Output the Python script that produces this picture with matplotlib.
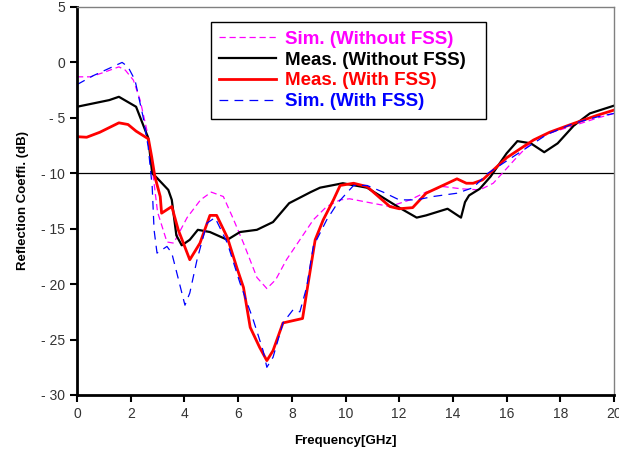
import numpy as np
import matplotlib.pyplot as plt

# data (frequency in GHz, reflection in dB)
f_sim_wo = [0, 0.5, 1.0, 1.56, 1.8, 2.1, 2.35, 2.6, 2.8, 3.0, 3.35, 3.6, 4.1, 4.6, 5.0, 5.45,
            5.8, 6.2, 6.7, 7.07, 7.4, 7.8, 8.3, 8.8, 9.3, 9.8, 10.15, 11.0, 11.65, 12.4, 13.0,
            13.65, 14.3, 15.0, 15.5, 16.4, 17.0, 17.7, 18.5, 19.4, 20.0]
s_sim_wo = [-1.3, -1.3, -0.9, -0.4, -0.7, -1.6, -3.4, -6.1, -9.5, -13.5, -16.2, -16.3, -14.0,
            -12.4, -11.7, -12.1, -14.0, -16.3, -19.4, -20.4, -19.6, -17.8, -16.0, -14.2, -13.0,
            -12.4, -12.3, -12.7, -13.0, -12.4, -11.7, -11.2, -11.4, -11.5, -10.9, -8.5, -7.0,
            -6.3, -5.7, -5.0, -4.6]

f_meas_wo = [0, 0.6, 1.2, 1.56, 2.2, 2.65, 2.8, 2.97, 3.4, 3.53, 3.7, 3.9, 4.2, 4.5, 4.95, 5.6,
             6.07, 6.7, 7.3, 7.9, 8.3, 8.7, 9.05, 9.9, 10.8, 12.0, 12.65, 13.0, 13.8, 14.3, 14.45,
             14.6, 15.0, 15.4, 16.0, 16.4, 16.9, 17.4, 17.9, 18.5, 19.1, 20.0]
s_meas_wo = [-4.0, -3.7, -3.4, -3.1, -4.0, -6.8, -10.0, -10.4, -11.5, -12.4, -15.6, -16.5,
             -16.0, -15.1, -15.3, -16.0, -15.3, -15.1, -14.4, -12.7, -12.2, -11.7, -11.3, -10.9,
             -11.3, -13.1, -14.0, -13.8, -13.2, -14.0, -12.6, -12.0, -11.4, -10.3, -8.2, -7.1,
             -7.3, -8.1, -7.3, -5.7, -4.6, -3.9]

f_meas_w = [0, 0.36, 0.85, 1.56, 1.9, 2.2, 2.66, 2.78, 2.9, 3.1, 3.15, 3.53, 3.77, 4.2, 4.58,
            4.95, 5.2, 5.6, 5.95, 6.2, 6.45, 6.8, 7.07, 7.3, 7.67, 8.4, 8.55, 8.87, 9.17, 9.55,
            9.8, 10.3, 10.8, 11.65, 12.0, 12.5, 13.0, 13.8, 14.15, 14.5, 14.75, 15.1, 16.0,
            17.0, 17.6, 18.5, 19.4, 20.0]
s_meas_w = [-6.7, -6.75, -6.3, -5.45, -5.6, -6.2, -6.9, -8.5, -10.3, -12.1, -13.6, -13.0,
            -15.1, -17.8, -16.3, -13.8, -13.8, -15.8, -18.5, -20.3, -23.9, -25.7, -26.9, -26.0,
            -23.5, -23.1, -20.8, -16.0, -14.2, -12.4, -11.1, -10.9, -11.2, -13.0, -13.2, -13.1,
            -11.8, -10.9, -10.5, -10.9, -10.9, -10.6, -8.6, -7.0, -6.3, -5.5, -4.75, -4.3]

f_sim_w = [0, 0.6, 1.23, 1.68, 1.9, 2.16, 2.46, 2.65, 2.8, 2.87, 2.98, 3.35, 3.53, 3.76, 4.02,
           4.2, 4.47, 4.84, 5.14, 5.6, 6.07, 6.56, 6.93, 7.07, 7.3, 7.67, 8.05, 8.3, 8.55, 8.8,
           9.3, 9.7, 10.3, 10.8, 11.4, 12.0, 12.65, 13.25, 14.15, 14.75, 15.3, 16.75, 17.5,
           18.5, 19.4, 20.0]
s_sim_w = [-2.0, -1.2, -0.5, 0.0, -0.4, -1.6, -4.9, -7.6, -11.2, -15.1, -17.2, -16.6, -17.2,
           -19.4, -21.9, -20.8, -17.8, -14.5, -14.0, -16.3, -19.9, -23.2, -26.0, -27.5, -26.6,
           -23.5, -22.3, -22.5, -20.3, -16.6, -14.2, -12.7, -11.1, -11.1, -11.7, -12.4, -12.4,
           -12.1, -11.8, -11.3, -10.0, -7.7, -6.5, -5.5, -4.9, -4.6]

labels = ['Sim. (Without FSS)', 'Meas. (Without FSS)', 'Meas. (With FSS)', 'Sim. (With FSS)']
colors = ['#ff00ff', 'black', 'red', 'blue']

plt.rcParams['font.family'] = ['Liberation Sans', 'DejaVu Sans']

fig = plt.figure(figsize=(6.19, 4.54), dpi=100)
ax = fig.add_axes([0.1244, 0.13, 0.8676, 0.8546])

ax.axhline(-10, color='black', lw=0.9)
ax.plot(f_sim_wo, s_sim_wo, color=colors[0], lw=0.9, dashes=(5, 3), label=labels[0])
ax.plot(f_meas_wo, s_meas_wo, color=colors[1], lw=1.6, label=labels[1])
ax.plot(f_meas_w, s_meas_w, color=colors[2], lw=2.0, label=labels[2])
ax.plot(f_sim_w, s_sim_w, color=colors[3], lw=0.9, dashes=(7, 5), label=labels[3])

ax.set_xlim(0, 20)
ax.set_ylim(-30, 5)
ax.set_xticks(range(0, 21, 2))
ax.set_yticks(range(-30, 6, 5))
ax.set_yticklabels(['- 30', '- 25', '- 20', '- 15', '- 10', '- 5', '0', '5'])
ax.tick_params(labelsize=10, length=5, width=1.5, colors='black', labelcolor='#333333')

for s in ['left', 'bottom']:
    ax.spines[s].set_linewidth(2)
for s in ['top', 'right']:
    ax.spines[s].set_color('#808080')
    ax.spines[s].set_linewidth(1)

ax.set_xlabel('Frequency[GHz]', fontsize=9.5, fontweight='bold', labelpad=10)
ax.set_ylabel('Reflection Coeffi. (dB)', fontsize=9.5, fontweight='bold', labelpad=9)

leg = ax.legend(loc='upper left', bbox_to_anchor=(0.2495, 0.711, 0.512, 0.25), mode='expand',
                fancybox=False, edgecolor='black', framealpha=1,
                prop={'weight': 'bold', 'size': 13.5},
                handlelength=3.0, labelspacing=0.2, borderpad=0.45, handletextpad=0.5,
                borderaxespad=0)
leg.get_frame().set_linewidth(1.0)
for txt, c in zip(leg.get_texts(), colors):
    txt.set_color(c)

fig.savefig('out.png', dpi=100)
